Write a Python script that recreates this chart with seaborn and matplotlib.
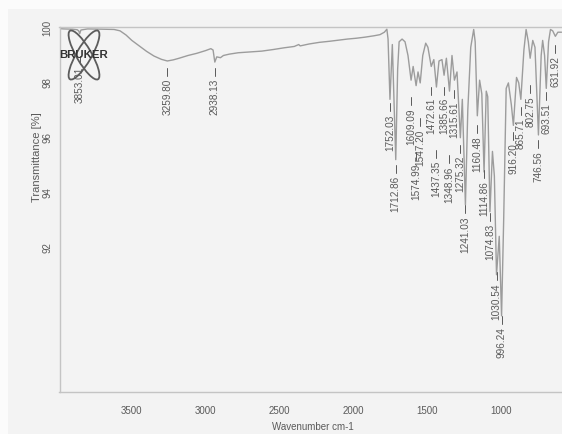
import matplotlib
matplotlib.use("Agg")
import matplotlib.pyplot as plt
from matplotlib.patches import Ellipse, Rectangle
import pandas as pd
import seaborn as sns

# FTIR spectrum: wavenumber (cm-1) and transmittance (%) vertices
wavenumber = [
    3990, 3960, 3900, 3870, 3860, 3853.0, 3845, 3800, 3700, 3620, 3580, 3540,
    3500, 3450, 3400, 3350, 3300, 3259.80, 3220, 3180, 3120, 3060, 3000, 2965,
    2950, 2938.13, 2925, 2900, 2880, 2840, 2780, 2700, 2620, 2540, 2470, 2400,
    2370, 2360, 2300, 2230, 2160, 2100, 2040, 1980, 1920, 1860, 1820, 1790,
    1773, 1765, 1752.03, 1736, 1712.86, 1700, 1690, 1670, 1650, 1630, 1609.09,
    1595, 1574.99, 1562, 1547.20, 1530, 1510, 1495, 1472.61, 1455, 1437.35,
    1420, 1400, 1385.66, 1370, 1348.96, 1332, 1315.61, 1298, 1275.32, 1262,
    1241.03, 1225, 1205, 1185, 1175, 1160.48, 1145, 1130, 1114.86, 1100, 1090,
    1074.83, 1058, 1045, 1030.54, 1012, 996.24, 982, 965, 950, 930, 916.20,
    895, 880, 865.71, 845, 830, 815, 802.75, 785, 770, 746.56, 728, 718, 705,
    693.51, 678, 665, 650, 631.92, 615, 590,
]
transmittance = [
    99.98, 99.97, 99.96, 99.94, 99.90, 99.80, 99.93, 99.97, 99.96, 99.95, 99.90, 99.75,
    99.55, 99.35, 99.15, 98.98, 98.86, 98.80, 98.84, 98.90, 99.00, 99.08, 99.18, 99.25,
    99.20, 98.76, 98.95, 98.92, 99.00, 99.05, 99.10, 99.13, 99.16, 99.22, 99.28, 99.33,
    99.40, 99.35, 99.42, 99.48, 99.52, 99.56, 99.60, 99.63, 99.67, 99.72, 99.76, 99.85,
    99.96, 99.60, 97.40, 99.40, 95.20, 98.50, 99.50, 99.60, 99.50, 99.00, 98.10,
    98.60, 97.90, 98.40, 98.00, 99.00, 99.45, 99.30, 98.60, 98.85, 97.85,
    98.80, 98.85, 98.28, 98.90, 97.70, 99.00, 98.10, 98.40, 96.00, 97.40,
    93.55, 97.00, 99.30, 99.95, 99.50, 96.80, 98.10, 97.60, 94.75, 97.70, 97.50,
    93.30, 95.50, 94.60, 91.00, 92.40, 89.50, 93.00, 97.80, 98.00, 97.20, 96.45,
    98.20, 98.00, 97.40, 99.20, 99.95, 99.50, 98.90, 99.55, 99.30, 96.10, 99.00, 99.55, 99.00,
    97.80, 99.50, 99.95, 99.90, 99.70, 99.85, 99.85,
]

# Picked peaks (cm-1)
peak_positions = [
    3853.0, 3259.80, 2938.13, 1752.03, 1712.86, 1609.09, 1574.99, 1547.20,
    1472.61, 1437.35, 1385.66, 1348.96, 1315.61, 1275.32, 1241.03, 1160.48,
    1114.86, 1074.83, 1030.54, 996.24, 916.20, 865.71, 802.75, 746.56,
    693.51, 631.92,
]
peak_labels = [
    "3853.01", "3259.80", "2938.13", "1752.03", "1712.86", "1609.09", "1574.99",
    "1547.20", "1472.61", "1437.35", "1385.66", "1348.96", "1315.61", "1275.32",
    "1241.03", "1160.48", "1114.86", "1074.83", "1030.54", "996.24", "916.20",
    "865.71", "802.75", "746.56", "693.51", "631.92",
]
# vertical placement of each peak label (top of its tick, in % transmittance)
label_tops = [
    98.98, 98.54, 98.54, 97.26, 95.00, 97.48, 95.47, 96.71,
    97.85, 95.55, 97.85, 95.36, 97.74, 95.73, 93.54, 96.46,
    94.82, 93.25, 91.09, 89.49, 96.20, 97.11, 97.92, 95.91,
    97.66, 99.38,
]

x_ticks = [3500, 3000, 2500, 2000, 1500, 1000]
y_ticks = [92, 94, 96, 98, 100]

GREY_LINE = "#9c9c9c"
GREY_AXIS = "#c4c4c4"
GREY_TEXT = "#5a5a5a"
BG = "#f3f3f3"
NARROW = ["Liberation Sans Narrow", "Liberation Sans", "DejaVu Sans"]

sns.set_theme(style="white")
plt.rcParams["font.family"] = ["Liberation Sans", "DejaVu Sans"]

W, H = 562, 434
fig = plt.figure(figsize=(W / 100, H / 100), dpi=100, facecolor=BG)
# lighter scan margins along the top and left edges
fig.patches.append(Rectangle((0, 1 - 9 / H), 1, 9 / H, transform=fig.transFigure,
                             facecolor="#fbfbfb", edgecolor="none", zorder=-1))
fig.patches.append(Rectangle((0, 0), 8 / W, 1, transform=fig.transFigure,
                             facecolor="#fbfbfb", edgecolor="none", zorder=-1))

left_px, right_px, top_px, bottom_px = 59.5, 562, 27, 392
ax = fig.add_axes([left_px / W, 1 - bottom_px / H,
                   (right_px - left_px) / W, (bottom_px - top_px) / H])
ax.set_facecolor(BG)

spec = pd.DataFrame({"wavenumber": wavenumber, "transmittance": transmittance})
sns.lineplot(data=spec, x="wavenumber", y="transmittance", ax=ax,
             color=GREY_LINE, linewidth=1.0, estimator=None, sort=True)

ax.set_xlim(3990, 587)
ax.set_ylim(86.72, 100.04)
ax.set_xticks(x_ticks)
ax.set_xticklabels([str(t) for t in x_ticks], family=NARROW, fontsize=7)
ax.set_yticks(y_ticks)
ax.set_yticklabels([str(t) for t in y_ticks], rotation=90, va="center", fontsize=7)

for side in ["left", "bottom", "top"]:
    ax.spines[side].set_color(GREY_AXIS)
    ax.spines[side].set_linewidth(1.0)
ax.spines["right"].set_visible(False)
ax.tick_params(axis="both", which="major", direction="out", length=3,
               width=0.8, color=GREY_AXIS, labelcolor=GREY_TEXT)
ax.tick_params(axis="x", pad=7)
ax.tick_params(axis="y", pad=2)
ax.grid(False)

ax.set_xlabel("Wavenumber cm-1", fontsize=7, color=GREY_TEXT, family=NARROW)
ax.set_ylabel("Transmittance [%]", fontsize=8, color=GREY_TEXT)
ax.xaxis.set_label_coords(0.504, -0.083)
ax.yaxis.set_label_coords(-0.035, 0.643)

# peak labels: short tick followed by the wavenumber, rotated
px = (100.04 - 86.72) / (bottom_px - top_px)  # transmittance per pixel
for pos, lab, top in zip(peak_positions, peak_labels, label_tops):
    ax.plot([pos, pos], [top, top - 8 * px], color=GREY_TEXT, lw=0.7)
    ax.text(pos, top - 11 * px, lab, rotation=90, ha="center", va="top",
            fontsize=7.2, color=GREY_TEXT)

# instrument logo in the top-left corner
lx0, ly0, lw_, lh_ = 62, 24, 46, 62
logo = fig.add_axes([lx0 / W, 1 - (ly0 + lh_) / H, lw_ / W, lh_ / H])
logo.set_xlim(0, lw_)
logo.set_ylim(0, lh_)
logo.axis("off")
logo.patch.set_alpha(0)
cx, cy = 22, 31
for ang in (30, -30):
    logo.add_patch(Ellipse((cx, cy), 15, 56, angle=ang, fill=False,
                           edgecolor="#5c5c5c", linewidth=1.3))
logo.text(cx, cy, "BRUKER", ha="center", va="center", fontsize=8.2,
          fontweight="bold", color="#333333", family=NARROW)

fig.savefig("out.png", dpi=100, facecolor=BG)
